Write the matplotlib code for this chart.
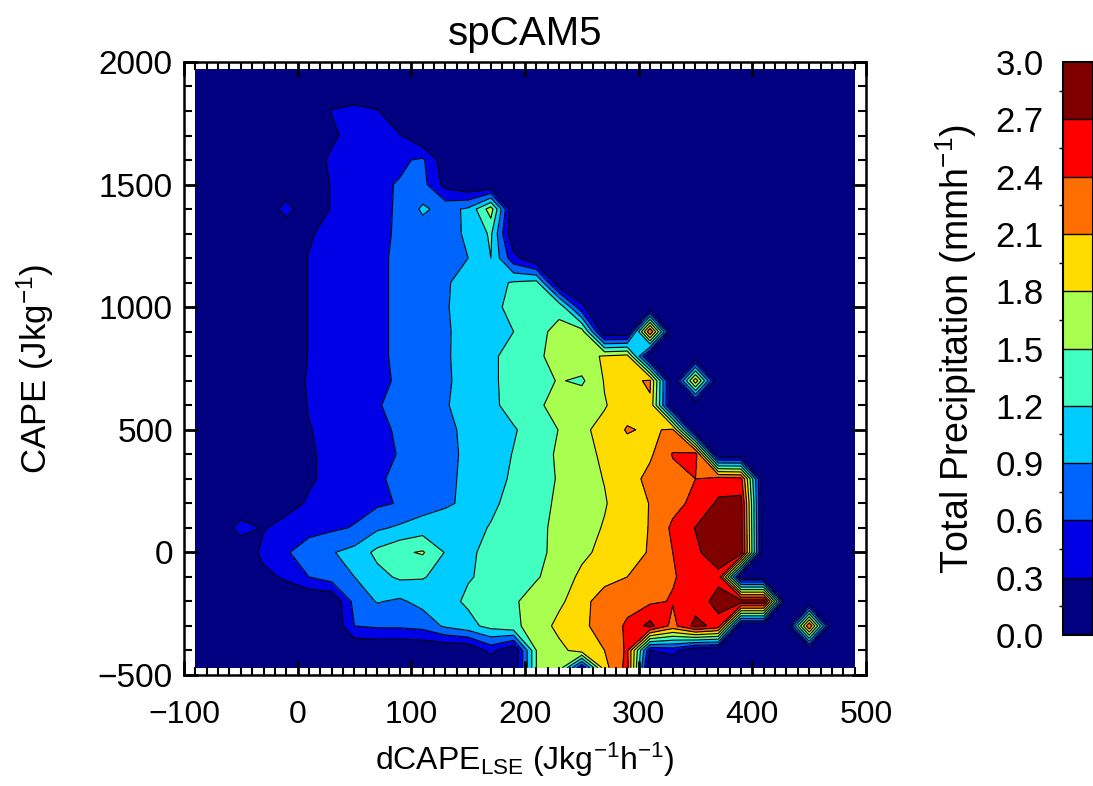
import numpy as np
import matplotlib.pyplot as plt
from matplotlib.ticker import MultipleLocator, FixedLocator

plt.rcParams['font.family'] = ['Liberation Sans', 'DejaVu Sans']
plt.rcParams['mathtext.fontset'] = 'custom'
plt.rcParams['mathtext.rm'] = 'Liberation Sans'
plt.rcParams['mathtext.it'] = 'Liberation Sans:italic'

# bin centres
dcape = [-90, -70, -50, -30, -10, 10, 30, 50, 70, 90, 110, 130, 150, 170, 190,
         210, 230, 250, 270, 290, 310, 330, 350, 370, 390, 410, 430, 450, 470, 490]
cape = [-470, -400, -300, -200, -100, 0, 100, 200, 300, 400, 500, 600, 700,
        800, 900, 1000, 1100, 1200, 1300, 1400, 1500, 1600, 1700, 1800, 1900, 1970]

# total precipitation, 0.1 mm/h, one row per CAPE bin
row_m470 = [0, 0, 0, 0, 0, 0, 0, 0, 0, 0, 0, 0, 0, 0, 0, 15, 17, 3, 20, 25, 0, 0, 0, 0, 0, 0, 0, 0, 0, 0]
row_m400 = [0, 0, 0, 0, 0, 0, 0, 0, 0, 0, 0, 0, 0, 4, 0, 15, 17, 19.5, 21, 24.5, 3, 4, 0, 0, 0, 0, 0, 0, 0, 0]
row_m300 = [0, 0, 0, 0, 0, 0, 0, 6, 6.5, 6.5, 7, 9.5, 11, 13, 14.5, 16, 19, 20.5, 22, 24.5, 28, 23, 28, 26, 0, 0, 0, 24, 0, 0]
row_m200 = [0, 0, 0, 0, 0, 0, 0, 7, 9.2, 8.5, 10, 11, 12.5, 14, 14.7, 16, 17.3, 20, 22.5, 23, 23.5, 24.2, 25.5, 28, 29, 29, 0, 0, 0, 0]
row_m100 = [0, 0, 0, 2, 3.6, 6, 7.5, 9, 11, 12.5, 12.2, 11, 11.8, 12.6, 13.5, 14.8, 16, 18.8, 20, 21, 22.5, 23.8, 25, 26.3, 0, 0, 0, 0, 0, 0]
row_0 = [0, 0, 0, 4, 5.7, 7.5, 8.8, 10, 12.8, 14.5, 15.3, 11.8, 11.5, 12.8, 13.5, 14.3, 15.8, 17.2, 19, 20, 21.2, 24, 26.5, 28.5, 29, 0, 0, 0, 0, 0]
row_100 = [0, 0, 4.5, 2.7, 4.5, 5, 5.5, 6.2, 8.5, 9.5, 10.5, 11, 11.5, 12.1, 13.5, 14.5, 15.5, 17, 18.2, 20, 21.1, 24.6, 27.1, 29, 28.5, 0, 0, 0, 0, 0]
row_200 = [0, 0, 0, 0, 1.5, 3.5, 4.5, 5, 5.5, 6.2, 7.5, 8.5, 9.7, 11.7, 12.5, 14, 15.5, 17, 17.8, 19.5, 21.1, 23, 24.8, 27.5, 28, 0, 0, 0, 0, 0]
row_300 = [0, 0, 0, 0, 0, 2.5, 4, 5, 5.7, 6.5, 7.5, 8.3, 9.7, 11, 12.4, 14, 15.2, 17, 18.1, 19.5, 22, 23, 24, 25.5, 25, 0, 0, 0, 0, 0]
row_400 = [0, 0, 0, 0, 0, 2.5, 4, 5, 5.5, 6.1, 7.5, 8.3, 9.5, 11, 12.1, 13.5, 15.5, 16.5, 18.8, 19.5, 20.5, 24.2, 25.5, 0, 0, 0, 0, 0, 0, 0]
row_500 = [0, 0, 0, 0, 0, 2.8, 4.2, 5, 5.5, 6.3, 7.5, 8.5, 9.5, 11, 11.8, 13, 15.1, 17.5, 18.8, 21.3, 20.5, 21.5, 0, 0, 0, 0, 0, 0, 0, 0]
row_600 = [0, 0, 0, 0, 0, 3.3, 4.5, 5, 5.8, 6.8, 7.8, 8.8, 10, 11.5, 12.8, 14.5, 16, 17, 17.8, 19.5, 20.5, 0, 0, 0, 0, 0, 0, 0, 0, 0]
row_700 = [0, 0, 0, 0, 0, 3.6, 4.5, 5, 5.5, 6.3, 7.5, 8.6, 10, 11.5, 13, 14, 15.2, 14.5, 18.2, 20, 21.5, 0, 20, 0, 0, 0, 0, 0, 0, 0]
row_800 = [0, 0, 0, 0, 0, 3.2, 4.5, 5, 5.5, 6.5, 7.5, 8.7, 10, 11.5, 13, 14.5, 16, 17, 18.3, 19, 0, 0, 0, 0, 0, 0, 0, 0, 0, 0]
row_900 = [0, 0, 0, 0, 0, 3.2, 4.5, 5, 5.5, 6.5, 7.8, 8.5, 10.5, 11.5, 12, 14.5, 15.5, 16.5, 0, 0, 24, 0, 0, 0, 0, 0, 0, 0, 0, 0]
row_1000 = [0, 0, 0, 0, 0, 3.2, 4.5, 5, 5.5, 6.5, 7.5, 8.8, 10, 11, 13, 14, 14.5, 3.5, 0, 0, 0, 0, 0, 0, 0, 0, 0, 0, 0, 0]
row_1100 = [0, 0, 0, 0, 0, 3.2, 4.5, 5, 5.5, 6.5, 7.5, 8.7, 10, 11, 12.3, 13, 0, 0, 0, 0, 0, 0, 0, 0, 0, 0, 0, 0, 0, 0]
row_1200 = [0, 0, 0, 0, 0, 3.2, 4.5, 5, 5.5, 6.5, 7.5, 8, 9, 12, 4, 0, 0, 0, 0, 0, 0, 0, 0, 0, 0, 0, 0, 0, 0, 0]
row_1300 = [0, 0, 0, 0, 0, 2.5, 4.5, 5, 5.5, 6.3, 7.5, 8.3, 9.3, 12.5, 0, 0, 0, 0, 0, 0, 0, 0, 0, 0, 0, 0, 0, 0, 0, 0]
row_1400 = [0, 0, 0, 0, 4.5, 0, 3.3, 5, 5, 6.5, 9.5, 8, 9.5, 16.5, 0, 0, 0, 0, 0, 0, 0, 0, 0, 0, 0, 0, 0, 0, 0, 0]
row_1500 = [0, 0, 0, 0, 0, 0, 3.3, 5, 5.5, 6.2, 7, 2, 0, 0, 0, 0, 0, 0, 0, 0, 0, 0, 0, 0, 0, 0, 0, 0, 0, 0]
row_1600 = [0, 0, 0, 0, 0, 0, 4, 5, 5, 5.5, 6.5, 1, 0, 0, 0, 0, 0, 0, 0, 0, 0, 0, 0, 0, 0, 0, 0, 0, 0, 0]
row_1700 = [0, 0, 0, 0, 0, 0, 2, 5, 5, 3.2, 0, 0, 0, 0, 0, 0, 0, 0, 0, 0, 0, 0, 0, 0, 0, 0, 0, 0, 0, 0]
row_1800 = [0, 0, 0, 0, 0, 0, 3.2, 4, 3.2, 0, 0, 0, 0, 0, 0, 0, 0, 0, 0, 0, 0, 0, 0, 0, 0, 0, 0, 0, 0, 0]
row_1900 = [0] * 30
row_1970 = [0] * 30

levels = [0.0, 0.3, 0.6, 0.9, 1.2, 1.5, 1.8, 2.1, 2.4, 2.7, 3.0]
colors = ['#000080', '#0000e6', '#0064ff', '#00ccff', '#40ffc0',
          '#a8ff50', '#ffdc00', '#ff6e00', '#ff0000', '#800000']

precip = np.array([row_m470, row_m400, row_m300, row_m200, row_m100, row_0,
                   row_100, row_200, row_300, row_400, row_500, row_600,
                   row_700, row_800, row_900, row_1000, row_1100, row_1200,
                   row_1300, row_1400, row_1500, row_1600, row_1700,
                   row_1800, row_1900, row_1970]) / 10.0

fig = plt.figure(figsize=(10.93, 7.86), dpi=100)
ax = fig.add_axes([0.1683, 0.1412, 0.624, 0.780])

cf = ax.contourf(dcape, cape, precip, levels=levels, colors=colors)
ax.contour(dcape, cape, precip, levels=levels[1:-1], colors='k', linewidths=0.8)

ax.set_xlim(-100, 500)
ax.set_ylim(-500, 2000)
ax.xaxis.set_major_locator(MultipleLocator(100))
ax.xaxis.set_minor_locator(MultipleLocator(10))
ax.yaxis.set_major_locator(MultipleLocator(500))
ax.yaxis.set_minor_locator(MultipleLocator(100))
ax.tick_params(which='both', direction='in', top=True, right=True)
ax.tick_params(which='major', length=10, width=2)
ax.tick_params(which='minor', length=6, width=1.5)
ax.tick_params(axis='x', labelsize=23, pad=18)
ax.tick_params(axis='y', labelsize=24, pad=8)
for s in ax.spines.values():
    s.set_linewidth(1.8)

ax.set_title('spCAM5', fontsize=29, pad=12)
ax.set_xlabel(r'dCAPE$_{\mathrm{LSE}}$ (Jkg$^{\mathrm{-1}}$h$^{\mathrm{-1}}$)', fontsize=23, labelpad=8)
ax.set_ylabel(r'CAPE (Jkg$^{\mathrm{-1}}$)', fontsize=25, labelpad=30)

cax = fig.add_axes([0.9726, 0.1921, 0.027, 0.729])
cb = fig.colorbar(cf, cax=cax, ticks=levels, drawedges=True)
cb.outline.set_linewidth(1.5)
cb.dividers.set_linewidth(1.0)
cax.yaxis.set_ticks_position('left')
cax.yaxis.set_label_position('left')
cax.set_yticklabels(['%.1f' % v for v in levels])
cax.yaxis.set_minor_locator(FixedLocator([v + 0.15 for v in levels[:-1]]))
cax.tick_params(which='major', length=0, labelsize=25, pad=14)
cax.tick_params(which='minor', length=3, width=1)
cb.set_label(r'Total Precipitation (mmh$^{\mathrm{-1}}$)', fontsize=27, labelpad=12)

fig.savefig('out.png', dpi=100)
